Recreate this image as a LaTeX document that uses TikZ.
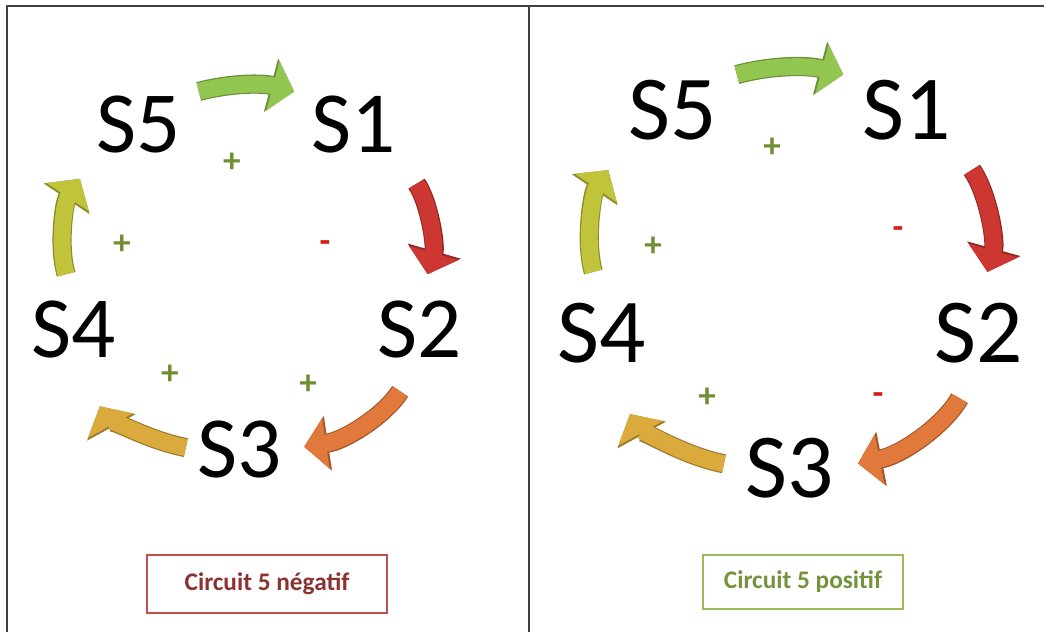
\documentclass[tikz,border=0pt]{standalone}
\usepackage{fontspec}
\setmainfont{Carlito}
\usetikzlibrary{arrows.meta, positioning}

\definecolor{arrgreen}{RGB}{146,198,80}
\definecolor{arrred}{RGB}{205,55,50}
\definecolor{arrorange}{RGB}{225,120,60}
\definecolor{arrgold}{RGB}{218,170,60}
\definecolor{arrlime}{RGB}{192,196,58}
\definecolor{signgreen}{RGB}{112,142,52}
\definecolor{signred}{RGB}{210,30,20}
\definecolor{negborder}{RGB}{192,80,77}
\definecolor{negtext}{RGB}{140,50,48}
\definecolor{posborder}{RGB}{155,187,89}
\definecolor{postext}{RGB}{118,146,60}
\definecolor{framegray}{RGB}{64,64,64}

\begin{document}
\begin{tikzpicture}[x=0.025cm,y=0.025cm,>={Triangle[length=0.55cm,width=1.25cm]},
      every node/.style={inner sep=0pt},
      sname/.style={font=\fontsize{62}{62}\selectfont},
      bigsname/.style={font=\fontsize{65}{65}\selectfont},
      sign/.style={text=#1,font=\fontsize{25}{25}\selectfont\bfseries},
      flow/.style={->,line width=0.42cm,draw=#1,bend left=25,
        preaction={draw=#1!72!black,line width=0.48cm,-{Triangle[length=0.6cm,width=1.35cm]}}},
      legendbox/.style={draw=#1,line width=2pt,minimum height=1.45cm,font=\fontsize{18}{18}\selectfont\bfseries},
      frame/.style={draw=framegray,line width=1.6pt}]
      \useasboundingbox (0,0) rectangle (1044,-632);
      \draw[frame] (7,-632) -- (7,-6) -- (1044,-6);
      \draw[frame] (529,-6) -- (529,-632);
      % left circuit
      \node[sname] (l5) at (139,-125) {S5};
      \node[sname] (l1) at (354,-125) {S1};
      \node[sname] (l2) at (420,-330) {S2};
      \node[sname] (l3) at (240,-450) {S3};
      \node[sname] (l4) at (74,-330) {S4};
      \draw[flow=arrgreen,bend left=15,shorten <=0.45cm,shorten >=0.45cm] (l5.north east) to (l1.north west);
      \draw[flow=arrred,shorten <=0.9cm,shorten >=0.7cm] (l1.south east) to (l2.north);
      \draw[flow=arrorange,shorten <=0.95cm,shorten >=0.55cm] (l2.south) to (l3.east);
      \draw[flow=arrgold,shorten <=0.3cm,shorten >=1.35cm] (l3.west) to (l4.south);
      \draw[flow=arrlime,shorten <=0.7cm,shorten >=0.75cm] (l4.north) to (l5.south west);
      \node[sign=signgreen] (ls51) at (232,-163) {+};
      \node[sign=signred] (ls12) at (325,-247) {-};
      \node[sign=signgreen] (ls23) at (308,-385) {+};
      \node[sign=signgreen] (ls34) at (170,-375) {+};
      \node[sign=signgreen] (ls45) at (122,-245) {+};
      \node[legendbox=negborder,text=negtext,minimum width=6cm] (negbox) at (267,-584) {Circuit 5 négatif};
      % right circuit
      \node[bigsname] (r5) at (673,-110) {S5};
      \node[bigsname] (r1) at (907,-110) {S1};
      \node[bigsname] (r2) at (979,-333) {S2};
      \node[bigsname] (r3) at (790,-468) {S3};
      \node[bigsname] (r4) at (602,-333) {S4};
      \draw[flow=arrgreen,bend left=15,shorten <=0.5cm,shorten >=0.5cm] (r5.north east) to (r1.north west);
      \draw[flow=arrred,shorten <=0.9cm,shorten >=0.8cm] (r1.south east) to (r2.north);
      \draw[flow=arrorange,shorten <=1cm,shorten >=0.6cm] (r2.south) to (r3.east);
      \draw[flow=arrgold,shorten <=0.55cm,shorten >=1.45cm] (r3.west) to (r4.south);
      \draw[flow=arrlime,shorten <=0.8cm,shorten >=0.9cm] (r4.north) to (r5.south west);
      \node[sign=signgreen] (rs51) at (772,-148) {+};
      \node[sign=signred] (rs12) at (898,-233) {-};
      \node[sign=signred] (rs23) at (878,-399) {-};
      \node[sign=signgreen] (rs34) at (707,-398) {+};
      \node[sign=signgreen] (rs45) at (653,-247) {+};
      \node[legendbox=posborder,text=postext,minimum width=5cm,minimum height=1.35cm] (posbox) at (803,-582) {Circuit 5 positif};
    \end{tikzpicture}
\end{document}
